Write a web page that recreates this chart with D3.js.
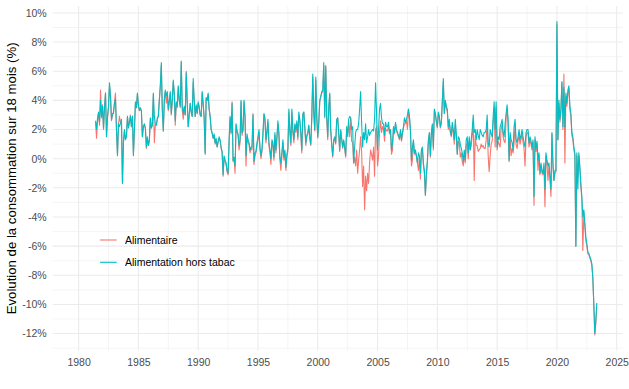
<!DOCTYPE html>
<html>
<head>
<meta charset="utf-8">
<script src="https://cdn.jsdelivr.net/npm/d3@7"></script>
<style>
  body { margin: 0; background: #fff; }
  text { font-family: "Liberation Sans", Arial, Helvetica, sans-serif; }
</style>
</head>
<body>
<div id="chart"></div>
<script>
'use strict';

// monthly series, first value = June 1981 (the source starts in Jan 1980 with empty months)
const sourceStart = 1980;
const firstMonth = 1981 + 5 / 12;
const seriesNames = ['Alimentaire', 'Alimentation hors tabac'];
const seriesColors = ['#F8766D', '#00BFC4'];
const xTicks = [1980, 1985, 1990, 1995, 2000, 2005, 2010, 2015, 2020, 2025];
const yTicks = [-12, -10, -8, -6, -4, -2, 0, 2, 4, 6, 8, 10];

const alimentaire = [
  2.5, 1.4, 2.6, 3.1, 2.3, 4.7, 2.8,
  3.7, 2.0, 3.6, 4.5, 1.6, 2.8, 3.5, 5.0, 4.2, 2.6, 3.0, 3.2,
  3.9, 4.5, 2.0, 0.3, 2.3, 2.9, 2.5, 2.6, -1.6, 1.2, 1.9, 1.4,
  1.5, 2.9, 2.2, 2.5, 3.0, 2.2, 2.9, 0.3, 2.0, 3.8, 3.5, 4.4,
  3.6, 3.3, 3.4, 3.3, 1.5, 2.2, 2.3, 2.1, 0.7, 1.4, 0.9, 1.2,
  2.7, 2.1, 2.3, 4.4, 1.1, 2.3, 2.3, 2.7, 2.9, 4.0, 5.0, 6.4,
  3.3, 1.9, 4.0, 4.6, 3.8, 4.5, 3.3, 3.9, 4.5, 3.0, 4.0, 5.3,
  4.4, 2.3, 3.8, 3.5, 4.9, 4.0, 3.5, 6.6, 3.3, 2.7, 3.5, 3.0,
  6.0, 3.8, 2.2, 3.0, 3.8, 3.2, 2.9, 5.2, 4.0, 2.9, 3.6, 3.1,
  3.8, 3.6, 3.0, 2.9, 4.5, 3.7, 2.8, 0.4, 4.1, 4.0, 4.4, 3.4,
  2.9, 2.0, 1.7, 1.4, 1.5, 1.0, 1.2, 0.8, 1.1, 1.4, 1.2, 0.7,
  0.4, -1.2, 0.1, -0.2, -0.4, -0.9, -1.1, 1.1, 2.8, 1.7, 3.9, -0.2,
  0.0, -1.0, 2.3, 1.8, 1.6, 0.6, 1.1, 3.9, 1.6, 1.9, 3.9, 2.8,
  -0.5, 1.5, 1.1, 1.0, 0.4, 0.7, 0.6, 3.1, -0.4, 0.2, 0.4, 0.9,
  1.3, 1.8, 0.6, 0.0, 0.5, 1.6, 3.0, 2.6, 1.1, 1.7, 2.5, 0.9,
  0.4, -0.4, 1.1, 0.9, -0.1, 1.6, 0.4, 1.3, 2.4, 1.6, -0.1, -0.8,
  0.2, 1.1, -0.1, 0.4, -0.8, 0.1, 0.5, 3.2, 1.8, 0.9, 3.2, 1.8,
  1.1, 2.2, 1.8, 2.4, 1.3, 3.0, 2.5, 1.6, 0.4, 2.9, 3.2, 2.0,
  0.9, 1.5, 1.7, 2.2, 1.3, 0.9, 2.8, 5.6, 3.0, 1.9, 5.4, 2.7,
  1.4, 2.4, 3.9, 4.2, 4.5, 4.6, 6.4, 2.8, 6.4, 2.7, 1.3, 3.4,
  4.4, 1.9, 0.9, 0.1, 1.2, 1.4, 1.0, 2.6, 2.8, 1.7, 0.5, 1.9,
  1.3, 0.7, 1.2, 0.7, 0.1, 2.0, 1.7, 2.5, 1.5, 2.8, 1.2, 1.1,
  -0.3, 0.1, -0.5, 0.6, -1.0, -0.1, 0.6, 1.5, 0.5, -1.9, -0.5, -3.5,
  -1.2, -2.2, -1.0, -1.7, -0.3, 0.6, 0.3, -0.1, 0.8, -1.2, 2.0, 2.2,
  -0.5, 0.2, 1.8, 2.6, 1.8, 2.2, 2.0, 1.2, 2.1, 1.9, 1.9, 2.3,
  1.7, 1.9, 0.3, 0.6, 2.1, 1.7, 2.4, 1.9, 1.7, 1.5, 1.3, 1.9,
  1.2, 1.7, 2.1, 2.4, 2.4, 2.6, 2.0, 3.3, 2.8, 1.9, -0.5, -0.1,
  1.2, 0.3, 0.5, 0.1, -0.3, -0.8, 0.1, -1.4, 0.5, 0.7, -0.5, -1.0,
  -2.5, -1.2, -0.3, 1.2, 1.7, 0.1, 1.7, 2.3, 0.6, 3.3, 3.0, 2.5,
  2.1, 3.1, 2.8, 2.1, 2.4, 3.9, 5.3, 3.1, 3.9, 3.5, 3.2, 2.0,
  2.5, 1.8, 1.5, 2.3, 1.7, 1.0, 2.4, 1.4, 0.3, 1.2, 1.1, 0.1,
  0.4, -0.2, -0.5, 0.3, -0.3, 0.9, 1.1, 0.0, 1.2, 0.6, 0.9, 1.6,
  2.6, -1.5, 1.6, 0.9, 0.9, 0.5, 0.6, 0.7, 1.0, 0.8, 0.9, 0.7,
  0.7, 1.3, 2.6, 0.2, -0.9, 0.2, 1.0, 1.2, 2.4, 3.5, 0.8, 3.5,
  0.6, 1.2, 1.0, 0.8, 2.0, 2.4, 1.5, 1.2, 1.1, 2.8, 3.4, 2.4,
  -0.2, 1.5, 0.2, 0.7, 0.4, 1.1, 2.4, 1.0, 0.7, 1.2, 1.6, 1.0,
  1.3, 1.8, 1.1, 0.7, -0.5, 1.5, 1.8, 1.8, 0.8, 1.3, 1.0, 0.6,
  1.1, -3.2, 1.3, 0.5, 1.0, -0.8, 0.2, -1.1, -0.5, -1.0, -1.1, -0.5,
  -3.3, 0.2, -0.3, -1.5, -0.5, -1.4, -2.6, 1.7, -0.5, -1.5, -1.0, -0.9,
  9.2, 1.3, 3.8, 2.5, 3.2, 5.2, 2.0, 5.8, -0.3, 4.3, 3.6, 4.5,
  4.8, 3.4, 2.9, 1.6, 1.3, 0.6, 0.2, -6.0, 0.2, -1.2, 0.2, -0.7,
  -1.9, -2.8, -6.3, -3.7, -4.6, -5.6, -6.0, -6.5, -6.6, -6.8, -7.0, -7.3,
  -8.2, -10.0, -12.1, -11.3, -10.2
];

const horsTabac = [
  2.6, 2.0, 2.8, 3.2, 2.5, 4.0, 2.9,
  3.6, 2.1, 3.5, 4.5, 1.5, 2.9, 3.6, 5.2, 4.3, 2.7, 3.1, 3.1,
  3.8, 4.1, 2.0, 0.2, 2.4, 2.2, 2.4, 2.7, -1.7, 1.1, 2.0, 1.3,
  1.5, 2.9, 2.1, 2.5, 2.9, 2.2, 2.9, 0.2, 2.0, 3.9, 3.5, 4.5,
  3.7, 3.3, 3.5, 3.3, 1.5, 2.2, 2.4, 2.1, 0.8, 1.5, 0.9, 1.3,
  2.8, 2.1, 2.3, 4.5, 2.9, 2.4, 2.3, 2.8, 2.9, 4.0, 5.0, 6.6,
  3.4, 1.9, 4.0, 4.7, 4.3, 4.6, 3.4, 4.0, 4.6, 3.1, 4.0, 5.4,
  4.5, 2.6, 3.9, 3.6, 5.0, 4.0, 3.6, 6.7, 3.6, 3.1, 3.6, 3.0,
  5.9, 3.9, 2.2, 3.0, 3.8, 3.2, 2.9, 5.5, 4.0, 2.9, 3.7, 3.1,
  3.9, 3.5, 3.0, 2.9, 4.6, 3.8, 2.8, 0.3, 4.2, 4.0, 4.5, 3.4,
  2.9, 2.0, 1.8, 1.4, 1.7, 1.1, 1.4, 0.8, 1.2, 1.5, 1.3, 0.8,
  0.5, -1.1, 0.2, -0.1, -0.3, -0.8, -1.0, 1.2, 2.9, 1.8, 3.8, -0.1,
  0.1, -0.5, 2.4, 1.9, 1.7, 0.9, 1.3, 4.0, 1.8, 2.0, 4.0, 2.9,
  0.2, 1.7, 1.3, 1.1, 0.6, 0.8, 0.8, 3.0, -0.2, 0.4, 0.5, 1.1,
  1.5, 2.0, 0.8, 0.2, 0.6, 1.8, 3.1, 2.8, 1.3, 1.9, 2.7, 1.1,
  0.6, 0.0, 1.3, 1.1, 0.1, 1.8, 0.6, 1.5, 2.6, 1.8, 0.1, -0.3,
  0.4, 1.3, 0.1, 0.6, -0.6, 0.3, 0.7, 3.4, 2.0, 1.1, 3.4, 2.0,
  1.3, 2.4, 2.0, 2.6, 1.5, 3.2, 2.7, 1.8, 0.6, 3.1, 3.2, 2.2,
  1.1, 1.6, 1.8, 2.3, 1.5, 1.0, 2.9, 5.8, 3.2, 2.0, 5.6, 2.9,
  1.5, 2.5, 4.0, 4.3, 4.6, 4.7, 6.6, 2.9, 6.3, 2.9, 1.5, 3.5,
  4.5, 2.0, 1.0, 0.2, 1.3, 1.5, 1.1, 2.7, 2.8, 1.8, 0.6, 2.0,
  1.4, 0.8, 1.3, 0.8, 0.2, 2.2, 1.5, 2.7, 2.9, 2.8, 2.0, 2.2,
  -0.3, 0.8, 1.8, 2.0, 2.0, 2.4, 3.4, 4.6, 2.5, 0.8, 1.8, 1.3,
  2.4, 1.1, 1.5, 2.0, 1.6, 1.8, 1.9, 2.0, 1.9, 2.7, 5.2, 3.1,
  0.6, 2.0, 3.4, 3.8, 2.8, 2.4, 2.4, 1.6, 2.5, 2.2, 2.2, 2.5,
  1.8, 2.0, 0.6, 1.1, 2.2, 1.8, 2.5, 2.0, 1.8, 1.6, 1.4, 2.0,
  1.3, 1.8, 2.2, 2.8, 2.5, 2.7, 3.0, 3.4, 2.9, 2.0, -0.1, 0.8,
  1.3, 0.4, 0.6, 0.2, -0.3, 0.4, 0.2, -1.0, 0.6, 0.8, -0.3, -0.8,
  -2.5, -1.0, -0.1, 1.3, 1.8, 0.2, 1.8, 2.4, 0.8, 3.4, 3.1, 2.6,
  2.2, 3.2, 2.9, 2.2, 2.5, 4.0, 5.5, 3.1, 4.0, 3.6, 3.4, 2.2,
  2.7, 1.9, 1.6, 2.5, 2.0, 1.3, 2.7, 1.7, 0.3, 1.5, 1.4, 1.0,
  0.7, 0.4, -0.2, 0.6, -0.1, 1.3, 1.5, 0.4, 1.5, 0.6, 1.3, 2.0,
  3.0, 1.8, 2.0, 1.3, 2.0, 1.6, 1.3, 2.0, 1.8, 1.6, 1.5, 1.8,
  1.8, 2.0, 3.0, 1.1, 0.8, 2.0, 1.7, 1.5, 2.9, 3.9, 2.0, 3.9,
  0.8, 1.5, 1.3, 2.2, 2.4, 2.7, 1.8, 1.5, 2.4, 3.1, 3.7, 2.7,
  -0.1, 1.8, 1.3, 1.1, 0.6, 2.2, 2.7, 1.3, 1.1, 1.5, 2.0, 1.3,
  1.6, 2.0, 1.5, 1.1, 0.8, 1.8, 2.0, 2.0, 1.1, 1.5, 1.2, 0.8,
  1.3, -2.6, 1.5, 0.7, 1.2, -0.1, 0.4, -1.0, -0.3, -0.8, -1.0, -0.3,
  -2.1, 0.4, -0.1, -0.5, -0.3, -1.2, -2.1, 1.8, -0.3, -1.5, -0.8, -0.8,
  9.4, 1.3, 4.0, 2.7, 3.4, 5.3, 2.2, 4.9, 2.2, 4.5, 3.8, 4.7,
  5.0, 3.6, 3.1, 1.8, 1.5, 0.8, 0.4, -6.0, 0.4, -2.1, 0.4, -0.5,
  -1.7, -2.6, -4.0, -3.5, -4.4, -5.4, -5.8, -6.4, -6.5, -6.7, -6.9, -7.2,
  -8.1, -9.9, -12.0, -11.1, -9.9
];

((d3) => {

    const width = 629;
    const height = 389;
    // panel box in pixels
    const panel = { left: 52.7, right: 622.7, top: 6, bottom: 350.7 };

    const series = [alimentaire, horsTabac].map((values, k) => ({
        name: seriesNames[k],
        color: seriesColors[k],
        points: values.map((v, i) => ({ date: firstMonth + i / 12, value: v }))
    }));

//scales, with the 5% padding ggplot adds on each side
    const lastDate = firstMonth + (horsTabac.length - 1) / 12;
    const xPad = (lastDate - sourceStart) * 0.05;
    const x = d3.scaleLinear()
        .domain([sourceStart - xPad, lastDate + xPad])
        .range([panel.left, panel.right]);

    const yExt = d3.extent(alimentaire.concat(horsTabac));
    const yPad = (yExt[1] - yExt[0]) * 0.05;
    const y = d3.scaleLinear()
        .domain([yExt[0] - yPad, yExt[1] + yPad])
        .range([panel.bottom, panel.top]);

    const svg = d3.select('#chart')
        .append('svg')
        .attr('width', width)
        .attr('height', height);

//grid: minor lines first, then major
    const xMinor = xTicks.map(t => t - 2.5).concat([2027.5])
        .filter(t => t > x.domain()[0] && t < x.domain()[1]);
    const yMinor = yTicks.map(t => t - 1).concat([11])
        .filter(t => t > y.domain()[0] && t < y.domain()[1]);

    const grid = svg.append('g');
    grid.selectAll('.xminor')
        .data(xMinor)
        .enter()
        .append('line')
        .attr('x1', d => x(d)).attr('x2', d => x(d))
        .attr('y1', panel.top).attr('y2', panel.bottom)
        .attr('stroke', '#EBEBEB')
        .attr('stroke-width', 0.55);
    grid.selectAll('.yminor')
        .data(yMinor)
        .enter()
        .append('line')
        .attr('x1', panel.left).attr('x2', panel.right)
        .attr('y1', d => y(d)).attr('y2', d => y(d))
        .attr('stroke', '#EBEBEB')
        .attr('stroke-width', 0.55);
    grid.selectAll('.xmajor')
        .data(xTicks)
        .enter()
        .append('line')
        .attr('x1', d => x(d)).attr('x2', d => x(d))
        .attr('y1', panel.top).attr('y2', panel.bottom)
        .attr('stroke', '#EBEBEB')
        .attr('stroke-width', 1.07);
    grid.selectAll('.ymajor')
        .data(yTicks)
        .enter()
        .append('line')
        .attr('x1', panel.left).attr('x2', panel.right)
        .attr('y1', d => y(d)).attr('y2', d => y(d))
        .attr('stroke', '#EBEBEB')
        .attr('stroke-width', 1.07);

//axes (labels only, as in theme_minimal)
    const xAxis = svg.append('g')
        .attr('transform', 'translate(0,' + (panel.bottom + 1) + ')')
        .call(d3.axisBottom(x).tickValues(xTicks).tickFormat(d3.format('d')).tickSize(0).tickPadding(6.5));
    const yAxis = svg.append('g')
        .attr('transform', 'translate(' + (panel.left - 2.2) + ',0)')
        .call(d3.axisLeft(y).tickValues(yTicks).tickFormat(d => d + '%').tickSize(0).tickPadding(3.8));
    [xAxis, yAxis].forEach(a => {
        a.select('.domain').remove();
        a.selectAll('text')
            .attr('fill', '#4D4D4D')
            .style('font-size', '10.5px')
            .style('font-family', '"Liberation Sans", Arial, sans-serif');
    });

    svg.append('text')
        .attr('transform', 'translate(15.5,' + ((panel.top + panel.bottom) / 2) + ') rotate(-90)')
        .attr('text-anchor', 'middle')
        .attr('fill', '#000')
        .style('font-size', '13.2px')
        .text('Evolution de la consommation sur 18 mois (%)');

//lines
    const line = d3.line()
        .x(d => x(d.date))
        .y(d => y(d.value));

    svg.append('g')
        .selectAll('path')
        .data(series)
        .enter()
        .append('path')
        .attr('d', d => line(d.points))
        .attr('fill', 'none')
        .attr('stroke', d => d.color)
        .attr('stroke-width', 1.1)
        .attr('stroke-linejoin', 'round');

//legend inside the panel
    const legendX = 100;
    const legendY = 240;
    const legendStep = 22.3;
    const legend = svg.selectAll('.legend')
        .data(series)
        .enter()
        .append('g')
        .attr('class', 'legend')
        .attr('transform', (d, i) => 'translate(' + legendX + ',' + (legendY + i * legendStep) + ')');

    legend.append('line')
        .attr('x1', 0).attr('x2', 16.7)
        .attr('stroke', d => d.color)
        .attr('stroke-width', 1.1);

    legend.append('text')
        .attr('x', 25)
        .attr('y', 3.8)
        .attr('fill', '#000')
        .style('font-size', '10.5px')
        .text(d => d.name);

})(window.d3);
</script>
</body>
</html>
